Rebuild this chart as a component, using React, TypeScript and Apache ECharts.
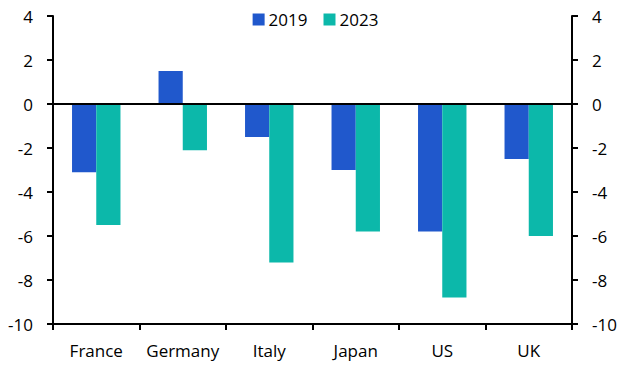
import React, { useEffect, useRef } from "react";
import * as echarts from "echarts";

const categories = ["France", "Germany", "Italy", "Japan", "US", "UK"];
const values2019 = [-3.1, 1.5, -1.5, -3.0, -5.8, -2.5];
const values2023 = [-5.5, -2.1, -7.2, -5.8, -8.8, -6.0];
const seriesNames = ["2019", "2023"];

const FONT = "'Open Sans', sans-serif";

export default function App() {
  const ref = useRef<HTMLDivElement>(null);
  useEffect(() => {
    if (!ref.current) return;
    const chart = echarts.init(ref.current, null, { renderer: "svg" });
    const yAxisCommon = {
      type: "value",
      min: -10,
      max: 4,
      interval: 2,
      axisLine: { show: true, lineStyle: { color: "#000", width: 2 } },
      axisTick: { show: true, length: 6, lineStyle: { color: "#000", width: 2 } },
      splitLine: { show: false },
      axisLabel: { color: "#000", fontSize: 17, fontFamily: FONT, margin: 20 },
    };
    chart.setOption({
      animation: false,
      grid: { left: 53, right: 59, top: 16, bottom: 52, containLabel: false },
      legend: {
        top: 6,
        left: "center",
        itemWidth: 12,
        itemHeight: 12,
        itemGap: 16,
        icon: "rect",
        textStyle: { color: "#000", fontSize: 17, fontFamily: FONT, padding: [0, 0, 0, -1] },
        data: seriesNames,
      },
      xAxis: {
        type: "category",
        data: categories,
        axisLine: { show: true, onZero: false, lineStyle: { color: "#000", width: 2 } },
        axisTick: { show: true, interval: 0, length: 6, lineStyle: { color: "#000", width: 2 } },
        axisLabel: { color: "#000", fontSize: 17, fontFamily: FONT, margin: 18, interval: 0 },
      },
      yAxis: [
        { ...yAxisCommon, position: "left" },
        { ...yAxisCommon, position: "right" },
      ],
      series: [
        {
          name: seriesNames[0],
          type: "bar",
          data: values2019,
          barWidth: "28%",
          barGap: "0%",
          itemStyle: { color: "#2058CC" },
          markLine: {
            silent: true,
            symbol: "none",
            label: { show: false },
            lineStyle: { color: "#000", width: 2, type: "solid" },
            data: [{ yAxis: 0 }],
            z: 10,
          },
        },
        {
          name: seriesNames[1],
          type: "bar",
          data: values2023,
          barWidth: "28%",
          barGap: "0%",
          itemStyle: { color: "#0CB8AA" },
        },
      ],
    });
    return () => chart.dispose();
  }, []);
  return <div ref={ref} style={{ width: 631, height: 376, position: "absolute", left: 0, top: 0 }} />;
}
